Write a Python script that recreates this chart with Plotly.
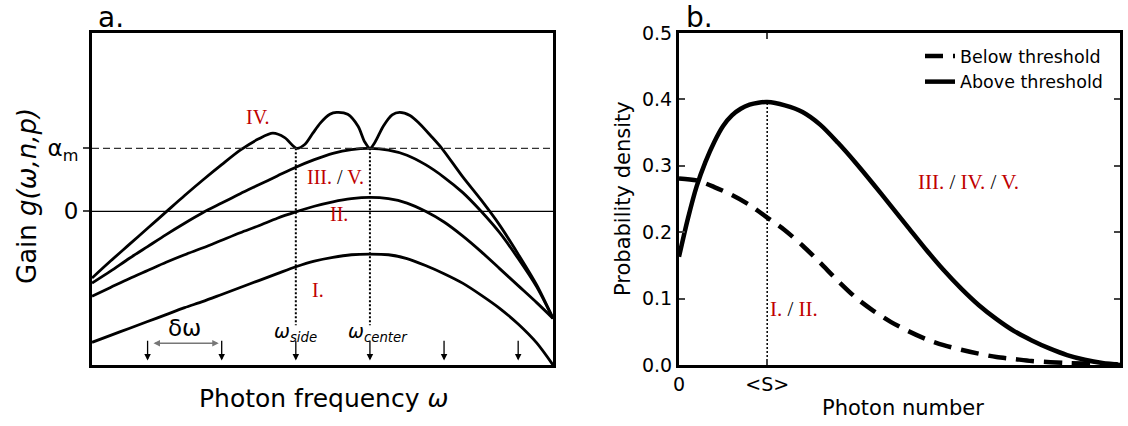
import plotly.graph_objects as go

# ---------------- Panel a data (omega relative to omega_center, arrow spacing = 1) ----------------
alpha_m = 1.0
omega_side = -1.0
omega_center = 0.0
arrow_omegas = [-3, -2, -1, 0, 1, 2]

w_grid = [-3.75, -3.5, -3.25, -3.0, -2.75, -2.5, -2.25, -2.0, -1.75, -1.5, -1.25, -1.0, -0.75,
          -0.5, -0.25, 0.0, 0.25, 0.5, 0.75, 1.0, 1.25, 1.5, 1.75, 2.0, 2.25, 2.47]
g_I = [-2.08, -1.97, -1.86, -1.75, -1.64, -1.53, -1.43, -1.32, -1.21, -1.10, -0.99, -0.88, -0.79,
       -0.73, -0.69, -0.68, -0.69, -0.75, -0.86, -0.99, -1.14, -1.33, -1.54, -1.79, -2.09, -2.44]
g_II = [-1.35, -1.21, -1.07, -0.94, -0.81, -0.69, -0.58, -0.46, -0.34, -0.23, -0.11, -0.01, 0.08,
        0.15, 0.20, 0.22, 0.20, 0.13, 0.0, -0.17, -0.39, -0.64, -0.91, -1.18, -1.45, -1.70]
g_III = [-1.14, -0.95, -0.75, -0.56, -0.37, -0.19, -0.02, 0.13, 0.28, 0.42, 0.56, 0.70, 0.82,
         0.92, 0.98, 1.0, 0.97, 0.89, 0.74, 0.54, 0.30, 0.0, -0.34, -0.75, -1.20, -1.70]

w_IV = [-3.75, -3.5, -3.25, -3.0, -2.75, -2.5, -2.25, -2.0, -1.75, -1.5, -1.31, -1.15, -0.99,
        -0.88, -0.77, -0.67, -0.54, -0.45, -0.30, -0.16, -0.07, 0.0, 0.07, 0.18, 0.30, 0.40,
        0.54, 0.67, 0.82, 0.97, 1.25, 1.5, 1.75, 2.0, 2.25, 2.47]
g_IV = [-1.06, -0.79, -0.53, -0.27, -0.01, 0.25, 0.50, 0.74, 0.97, 1.15, 1.24, 1.17, 1.0,
        1.06, 1.24, 1.40, 1.54, 1.57, 1.54, 1.35, 1.10, 1.0, 1.10, 1.35, 1.53, 1.57,
        1.52, 1.39, 1.20, 1.0, 0.55, 0.18, -0.22, -0.68, -1.17, -1.70]

# ---------------- Panel b data ----------------
mean_S = 1.0
n_above = [0.0, 0.1, 0.2, 0.3, 0.4, 0.5, 0.6, 0.7, 0.8, 0.9, 1.0, 1.2, 1.4, 1.6, 1.8, 2.0,
           2.2, 2.4, 2.6, 2.8, 3.0, 3.2, 3.4, 3.6, 3.8, 4.0, 4.2, 4.4, 4.6, 4.8, 5.0]
p_above = [0.163, 0.22, 0.269, 0.306, 0.336, 0.36, 0.376, 0.386, 0.392, 0.395, 0.396, 0.391,
           0.381, 0.362, 0.335, 0.305, 0.273, 0.24, 0.207, 0.174, 0.143, 0.115, 0.09, 0.069,
           0.051, 0.037, 0.025, 0.015, 0.008, 0.003, 0.0]
n_below = [0.0, 0.2, 0.4, 0.6, 0.8, 1.0, 1.2, 1.4, 1.6, 1.8, 2.0, 2.2, 2.4, 2.6, 2.8, 3.0,
           3.2, 3.4, 3.6, 3.8, 4.0, 4.4, 4.8, 5.0]
p_below = [0.281, 0.278, 0.268, 0.256, 0.241, 0.222, 0.203, 0.18, 0.154, 0.127, 0.102, 0.082,
           0.065, 0.051, 0.039, 0.03, 0.023, 0.017, 0.012, 0.009, 0.006, 0.003, 0.0015, 0.001]
yticks_b = [0.0, 0.1, 0.2, 0.3, 0.4, 0.5]

RED = "#c00000"
SANS = "DejaVu Sans"
SERIF = "Liberation Serif"

W, H = 1128, 426
def px(x):
    return x / W
def py(y):
    return 1 - y / H

fig = go.Figure()

# Panel a curves
for w, g in [(w_grid, g_I), (w_grid, g_II), (w_grid, g_III), (w_IV, g_IV)]:
    fig.add_trace(go.Scatter(x=w, y=g, mode="lines", line=dict(color="black", width=2.8, shape="spline", smoothing=0.8),
                             xaxis="x", yaxis="y", showlegend=False, hoverinfo="skip"))

# dotted verticals
gmin_dot = -1.81
for wv in [omega_side, omega_center]:
    fig.add_trace(go.Scatter(x=[wv, wv], y=[alpha_m, gmin_dot], mode="lines",
                             line=dict(color="black", width=2, dash="2px,2px"),
                             xaxis="x", yaxis="y", showlegend=False, hoverinfo="skip"))

# Panel b curves
fig.add_trace(go.Scatter(x=n_below, y=p_below, mode="lines", name="Below threshold", legendgroup="b",
                         line=dict(color="black", width=4.5, dash="18px,10px", shape="spline", smoothing=0.8),
                         xaxis="x2", yaxis="y2"))
fig.add_trace(go.Scatter(x=n_above, y=p_above, mode="lines", name="Above threshold", legendgroup="a",
                         line=dict(color="black", width=4.5, shape="spline", smoothing=0.8),
                         xaxis="x2", yaxis="y2"))
fig.add_trace(go.Scatter(x=[mean_S, mean_S], y=[0, max(p_above)], mode="lines",
                         line=dict(color="black", width=1.5, dash="2px,2px"),
                         xaxis="x2", yaxis="y2", showlegend=False, hoverinfo="skip"))

shapes = [
    dict(type="line", xref="x domain", yref="y", x0=0, x1=1, y0=alpha_m, y1=alpha_m,
         line=dict(color="#333333", width=1.3, dash="7px,4px")),
    dict(type="line", xref="x domain", yref="y", x0=0, x1=1, y0=0, y1=0,
         line=dict(color="black", width=1.3)),
]

ann = []
# arrows
y_tail, y_tip = -2.03, -2.37
for wv in arrow_omegas:
    ann.append(dict(x=wv, y=y_tip, ax=wv, ay=y_tail, xref="x", yref="y", axref="x", ayref="y",
                    showarrow=True, arrowhead=2, arrowsize=1, arrowwidth=1.3, arrowcolor="black", text=""))
# delta omega double arrow
ann.append(dict(x=-2.04, y=-2.095, ax=-2.94, ay=-2.095, xref="x", yref="y", axref="x", ayref="y",
                showarrow=True, arrowhead=2, startarrowhead=2, arrowside="end+start", arrowsize=1,
                arrowwidth=1.3, arrowcolor="#777777", text=""))
ann.append(dict(x=-2.5, y=-1.86, xref="x", yref="y", text="δω", showarrow=False,
                font=dict(family=SANS, size=23, color="black")))
ann.append(dict(x=omega_side, y=-1.93, xref="x", yref="y", text="<i>ω<sub>side</sub></i>", showarrow=False,
                font=dict(family=SANS, size=19, color="black")))
ann.append(dict(x=omega_center + 0.11, y=-1.93, xref="x", yref="y", text="<i>ω<sub>center</sub></i>", showarrow=False,
                font=dict(family=SANS, size=19, color="black")))

def red(s):
    return f'<span style="color:{RED}">{s}</span>'

lab = dict(showarrow=False, xanchor="center", yanchor="middle")
ann.append(dict(x=-1.51, y=1.49, xref="x", yref="y", text=red("IV."),
                font=dict(family=SERIF, size=20, color="black"), **lab))
ann.append(dict(x=-0.47, y=0.54, xref="x", yref="y", text=red("III.") + " / " + red("V."),
                font=dict(family=SERIF, size=20, color="black"), **lab))
ann.append(dict(x=-0.42, y=-0.05, xref="x", yref="y", text=red("II."),
                font=dict(family=SERIF, size=20, color="black"), **lab))
ann.append(dict(x=-0.70, y=-1.25, xref="x", yref="y", text=red("I."),
                font=dict(family=SERIF, size=20, color="black"), **lab))
ann.append(dict(x=3.28, y=0.275, xref="x2", yref="y2", text=red("III.") + " / " + red("IV.") + " / " + red("V."),
                font=dict(family=SERIF, size=21, color="black"), **lab))
ann.append(dict(x=1.3, y=0.084, xref="x2", yref="y2", text=red("I.") + " / " + red("II."),
                font=dict(family=SERIF, size=21, color="black"), **lab))

# panel letters and axis titles
ann.append(dict(x=px(96), y=py(17), xref="paper", yref="paper", text="a.", showarrow=False,
                xanchor="left", yanchor="middle", font=dict(family=SANS, size=28, color="black")))
ann.append(dict(x=px(684), y=py(17), xref="paper", yref="paper", text="b.", showarrow=False,
                xanchor="left", yanchor="middle", font=dict(family=SANS, size=28, color="black")))
ann.append(dict(x=px(27), y=py(196), xref="paper", yref="paper", text="Gain <i>g(ω,n,p)</i>",
                textangle=-90, font=dict(family=SANS, size=26, color="black"), **lab))
ann.append(dict(x=px(323), y=py(398), xref="paper", yref="paper", text="Photon frequency <i>ω</i>",
                font=dict(family=SANS, size=25, color="black"), **lab))
ann.append(dict(x=px(623), y=py(199), xref="paper", yref="paper", text="Probability density",
                textangle=-90, font=dict(family=SANS, size=21, color="black"), **lab))
ann.append(dict(x=px(903), y=py(408), xref="paper", yref="paper", text="Photon number",
                font=dict(family=SANS, size=21, color="black"), **lab))

ydom = [py(365), py(33)]
common = dict(showgrid=False, zeroline=False, automargin=False, linecolor="black", linewidth=3, showline=True)
fig.update_layout(
    width=W, height=H, margin=dict(l=0, r=0, t=0, b=0, autoexpand=False),
    paper_bgcolor="white", plot_bgcolor="white",
    shapes=shapes, annotations=ann,
    xaxis=dict(domain=[px(92), px(553)], range=[-3.75, 2.47], mirror=True,
               showticklabels=False, ticks="", **common),
    yaxis=dict(domain=ydom, range=[-2.44, 2.83], tickvals=[0, alpha_m], ticktext=["0", "α<sub>m</sub>"],
               ticks="outside", ticklen=6, tickwidth=1.5, mirror=True,
               tickfont=dict(family=SANS, size=23, color="black"), **common),
    xaxis2=dict(domain=[px(679), px(1120)], range=[0, 5], tickvals=[0, mean_S], ticktext=["0", "&lt;S&gt;"],
                ticks="inside", ticklen=6, tickwidth=1.5, mirror="ticks", anchor="y2",
                tickfont=dict(family=SANS, size=19, color="black"), **common),
    yaxis2=dict(domain=ydom, range=[0, 0.5], tickvals=yticks_b, ticktext=[f"{v:.1f}" for v in yticks_b],
                ticks="inside", ticklen=6, tickwidth=1.5, mirror="ticks", anchor="x2",
                tickfont=dict(family=SANS, size=19, color="black"), **common),
    legend=dict(x=px(920), y=py(38), xanchor="left", yanchor="top", bgcolor="rgba(0,0,0,0)",
                font=dict(family=SANS, size=17.5, color="black"), tracegroupgap=4, traceorder="normal"),
)

fig.write_html("out.html")
